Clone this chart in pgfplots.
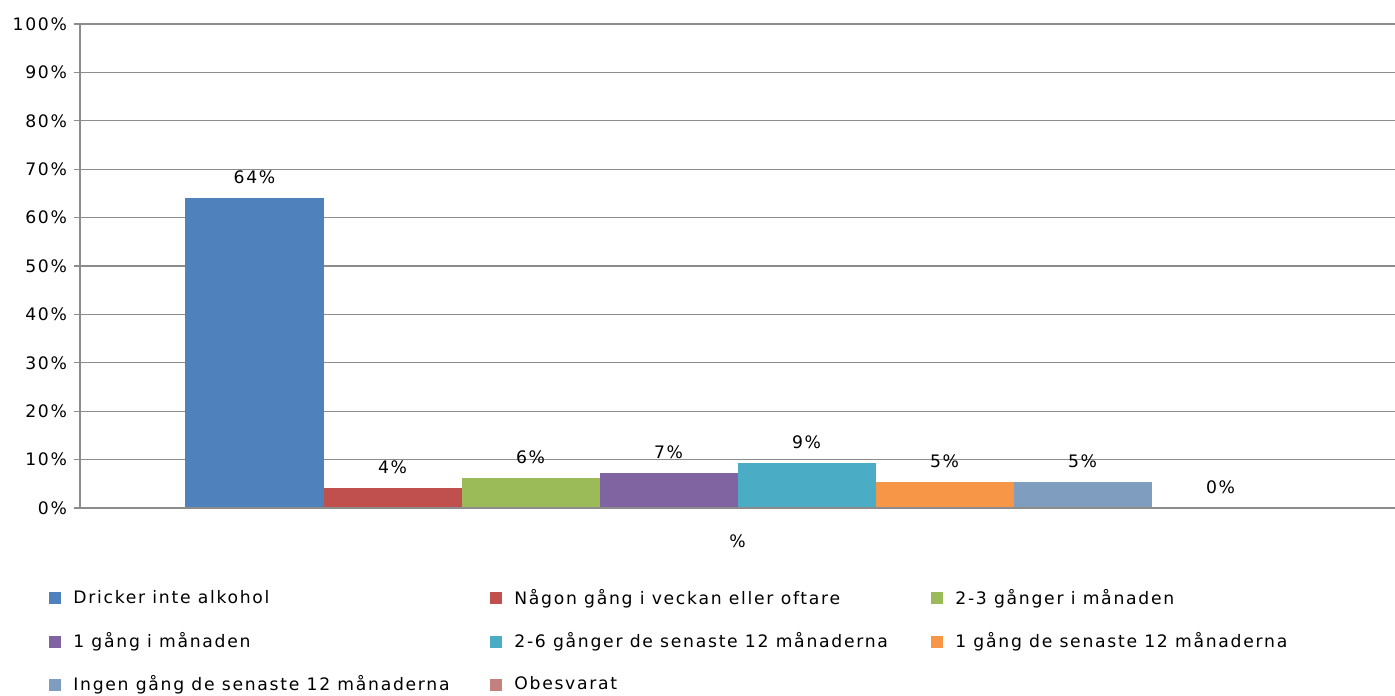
\documentclass[border=0pt]{standalone}
\usepackage{fontspec}
\setmainfont[LetterSpace=10]{DejaVu Sans}
\usepackage{pgfplots}
\pgfplotsset{compat=1.18}
\definecolor{gridgray}{HTML}{8C8C8C}
\definecolor{c1}{HTML}{4F81BD}
\definecolor{c2}{HTML}{C0504D}
\definecolor{c3}{HTML}{9BBB59}
\definecolor{c4}{HTML}{8064A2}
\definecolor{c5}{HTML}{4BACC6}
\definecolor{c6}{HTML}{F79646}
\definecolor{c7}{HTML}{7F9DBE}
\definecolor{c8}{HTML}{C4807F}
\begin{document}
\begin{tikzpicture}
\begin{axis}[
  name=ax,
  scale only axis, width=657.5pt, height=242pt,
  font=\fontsize{8.6pt}{10pt}\selectfont,
  ymin=0, ymax=100, ytick={0,10,...,100},
  yticklabel={\pgfmathprintnumber{\tick}\%},
  /pgf/number format/assume math mode=true,
  xmin=-1, xmax=1, xtick={0}, xticklabels={\%},
  xtick style={draw=none},
  xticklabel style={yshift=-7pt},
  ybar=0pt, bar width=69pt,
  ymajorgrids, grid style={draw=gridgray, line width=0.6pt},
  axis x line*=bottom, axis y line*=left,
  axis line style={draw=gridgray, line width=0.6pt},
  ytick style={draw=gridgray, line width=0.6pt},
  tick align=outside, major tick length=3pt,
  nodes near coords={\pgfmathprintnumber[fixed,precision=0]{\pgfplotspointmeta}\%},
  nodes near coords style={font=\fontsize{8.6pt}{10pt}\selectfont, text=black, anchor=south, yshift=3.5pt},
  legend columns=3,
  legend style={at={(-0.0236,-0.159)}, anchor=north west, draw=none, fill=none,
    font=\fontsize{8.6pt}{10pt}\selectfont, inner sep=0pt, row sep=8.5pt,
    /tikz/every odd column/.style={column sep=4pt},
    /tikz/every even column/.style={column sep=0pt}},
  legend cell align=left,
  legend image code/.code={\fill[#1,draw=none] (0pt,-3pt) rectangle (6pt,3pt);},
]
\addplot[fill=c1, draw=none] coordinates {(0,64.0)};
\addplot[fill=c2, draw=none] coordinates {(0,4.1)};
\addplot[fill=c3, draw=none] coordinates {(0,6.2)};
\addplot[fill=c4, draw=none] coordinates {(0,7.2)};
\addplot[fill=c5, draw=none] coordinates {(0,9.3)};
\addplot[fill=c6, draw=none] coordinates {(0,5.4)};
\addplot[fill=c7, draw=none] coordinates {(0,5.4)};
\addplot[fill=c8, draw=none] coordinates {(0,0)};
\addlegendentry{\makebox[206.5pt][l]{Dricker inte alkohol}}
\addlegendentry{\makebox[206.5pt][l]{Någon gång i veckan eller oftare}}
\addlegendentry{\makebox[206.5pt][l]{2-3 gånger i månaden}}
\addlegendentry{\makebox[206.5pt][l]{1 gång i månaden}}
\addlegendentry{\makebox[206.5pt][l]{2-6 gånger de senaste 12 månaderna}}
\addlegendentry{\makebox[206.5pt][l]{1 gång de senaste 12 månaderna}}
\addlegendentry{\makebox[206.5pt][l]{Ingen gång de senaste 12 månaderna}}
\addlegendentry{\makebox[206.5pt][l]{Obesvarat}}
\draw[gridgray, line width=0.6pt] (rel axis cs:0,0) -- (rel axis cs:1,0);
\end{axis}
\pgfresetboundingbox
\path ([xshift=-40pt,yshift=-93.5pt]ax.south west) rectangle ([yshift=12pt]ax.north east);
\end{tikzpicture}
\end{document}
